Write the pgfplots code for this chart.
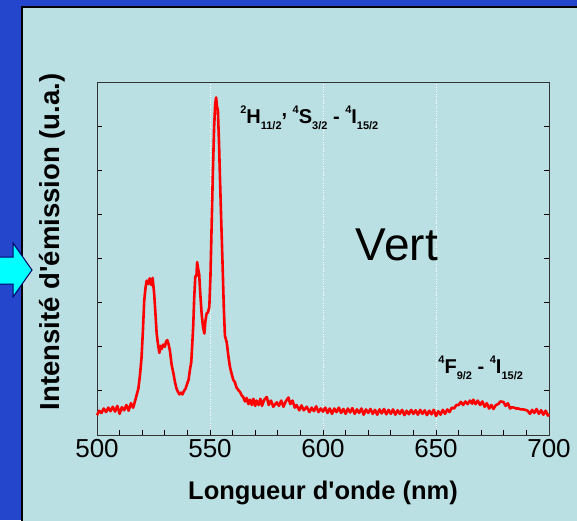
\documentclass[border=0pt]{standalone}
\usepackage{fontspec}
\setmainfont{Liberation Sans}[Ligatures=TeXOff]
\usepackage{pgfplots}
\pgfplotsset{compat=1.18}
\definecolor{bgblue}{RGB}{35,70,205}
\definecolor{panel}{RGB}{187,224,227}
\definecolor{arrowcyan}{RGB}{0,255,255}
\newcommand\up[1]{\raisebox{10pt}{\fontsize{11}{11}\selectfont #1}}
\newcommand\dn[1]{\raisebox{-6.5pt}{\fontsize{11}{11}\selectfont #1}}
\pgfplotstableread{
x y
500 0.45
501 0.55
502 0.50
503 0.60
504 0.52
505 0.62
506 0.54
507 0.64
508 0.53
509 0.66
510 0.48
511 0.63
512 0.56
513 0.68
514 0.55
515 0.72
516 0.62
517 0.80
517.5 0.90
518.3 1.05
519 1.35
519.7 1.75
520.3 2.35
520.9 3.05
521.5 3.35
522 3.50
522.7 3.42
523.3 3.55
524 3.40
524.6 3.56
525.3 3.20
525.8 2.80
526.4 2.30
527 2.05
527.6 1.86
528.1 2.02
528.6 1.95
529.3 2.05
530 2.00
530.6 2.12
531.1 2.15
531.7 2.05
532.3 1.90
533 1.60
533.8 1.40
534.5 1.20
535.2 1.05
535.8 0.98
536.5 0.92
537.2 0.96
537.8 0.92
538.5 1.00
539.2 1.05
539.8 1.15
540.5 1.25
541.2 1.50
541.7 1.65
542.2 2.10
542.6 2.50
543 3.10
543.5 3.60
544 3.60
544.3 3.92
544.8 3.75
545.2 3.65
545.7 3.20
546.3 2.75
546.9 2.45
547.5 2.30
548 2.60
548.5 2.75
549.1 2.78
549.7 2.90
550.2 3.60
550.7 4.70
551.2 5.80
551.8 6.95
552.3 7.50
552.7 7.65
553.1 7.45
553.5 7.35
554 6.60
554.4 5.85
555 4.80
555.6 3.80
556.1 2.90
556.6 2.25
557.4 2.10
558.1 1.80
558.8 1.55
559.5 1.40
560.3 1.25
561 1.20
561.7 1.08
562.5 1.02
563.2 0.98
564 0.90
564.7 0.86
565.5 0.76
566.2 0.84
567 0.70
567.7 0.80
568.5 0.68
569.2 0.82
570 0.66
570.6 0.78
571.5 0.68
572.3 0.82
573 0.66
574 0.80
575.1 0.86
576 0.68
577 0.78
578 0.64
579.5 0.74
580.5 0.66
581.5 0.78
582.5 0.64
583.5 0.76
584.7 0.85
585.5 0.70
586.5 0.78
587.5 0.62
588.3 0.68
589.5 0.56
590.5 0.67
591.5 0.56
592.8 0.64
594 0.52
595 0.62
596 0.54
597 0.65
598 0.52
599 0.60
600 0.53
601 0.62
602 0.50
603 0.60
604 0.48
605 0.60
606 0.52
607 0.62
608 0.50
609 0.59
610 0.48
611 0.60
612 0.51
613 0.61
614 0.48
615 0.58
616 0.50
617 0.60
618 0.46
619 0.58
620 0.50
621 0.59
622 0.48
623 0.57
624 0.46
625 0.58
626 0.49
627 0.59
628 0.47
629 0.57
630 0.48
631 0.58
632 0.46
633 0.56
634 0.48
635 0.57
636 0.45
637 0.55
638 0.47
639 0.57
640 0.48
641 0.56
642 0.46
643 0.57
644 0.48
645 0.56
646 0.45
647 0.55
648 0.47
649 0.57
650 0.43
651 0.54
652 0.46
653 0.57
654 0.48
655 0.58
656 0.52
657 0.62
658 0.60
659 0.68
660 0.68
661 0.75
662 0.68
663 0.76
664 0.70
665 0.78
666 0.71
666.5 0.80
667.5 0.70
668.5 0.78
669.5 0.68
670.5 0.76
671.5 0.64
672.5 0.72
673.5 0.60
674.5 0.68
675.4 0.59
676.5 0.68
677.5 0.70
678.5 0.76
679.8 0.75
680.8 0.66
681.8 0.72
682.8 0.60
683.5 0.63
684.5 0.62
685.5 0.60
686.5 0.60
687.5 0.58
688.5 0.58
689.5 0.57
690.5 0.55
691.6 0.48
692.5 0.57
693.5 0.50
694.5 0.59
695.5 0.48
696.5 0.56
697.5 0.46
698.5 0.55
699.5 0.44
700 0.48
}\spectrum
\begin{document}
\begin{tikzpicture}
\useasboundingbox (0pt,0pt) rectangle (577pt,520pt);
\fill[bgblue] (0pt,0pt) rectangle (577pt,520pt);
\fill[panel] (22pt,-5pt) rectangle (582pt,513pt);
\draw[black, line width=1.5pt] (22pt,-5pt) -- (22pt,513pt) -- (582pt,513pt);
\filldraw[fill=arrowcyan, draw=black!60!blue, line width=1pt] (-3pt,263pt) -- (13pt,263pt) -- (13pt,277pt) -- (32pt,250pt) -- (13pt,223pt) -- (13pt,236pt) -- (-3pt,236pt) -- cycle;
\begin{axis}[
  at={(97pt,85pt)}, anchor=south west,
  scale only axis, width=452pt, height=353pt,
  xmin=500, xmax=700, ymin=0, ymax=8,
  xtick={500,550,...,700}, minor x tick num=4,
  ytick={1,...,7}, yticklabels={},
  tick align=inside, xtick pos=lower, ytick pos=both,
  major tick length=5pt, minor tick length=5pt,
  axis line style={black!80, line width=1pt},
  every tick/.style={black, line width=0.8pt},
  xmajorgrids, major grid style={white, dotted, line width=0.8pt},
  /pgf/number format/assume math mode=true,
  xticklabel style={font=\fontsize{26}{26}\selectfont, yshift=-1pt},
  xlabel={Longueur d'onde (nm)},
  ylabel={Intensité d'émission (u.a.)},
  xlabel style={font=\fontsize{25.5}{25.5}\selectfont\bfseries, at={(axis description cs:0.5,-0.164)}, anchor=center},
  ylabel style={font=\fontsize{27.5}{27.5}\selectfont\bfseries, at={(axis description cs:-0.1,0.547)}, anchor=center},
  clip=false,
]
\addplot[red, line width=2.6pt, line join=round] table[x=x, y=y] {\spectrum};
\node[anchor=center, font=\fontsize{46}{46}\selectfont] at (axis cs:632.7,4.3) {Vert};
\node[anchor=base west, inner sep=0pt, font=\fontsize{20}{20}\selectfont\bfseries] at (axis cs:563.3,7.07) {\up{2}H\dn{11/2}\raisebox{7pt}{,} \up{4}S\dn{3/2} - \up{4}I\dn{15/2}};
\node[anchor=base west, inner sep=0pt, font=\fontsize{20}{20}\selectfont\bfseries] at (axis cs:651,1.40) {\up{4}F\dn{9/2} - \up{4}I\dn{15/2}};
\end{axis}
\end{tikzpicture}
\end{document}
